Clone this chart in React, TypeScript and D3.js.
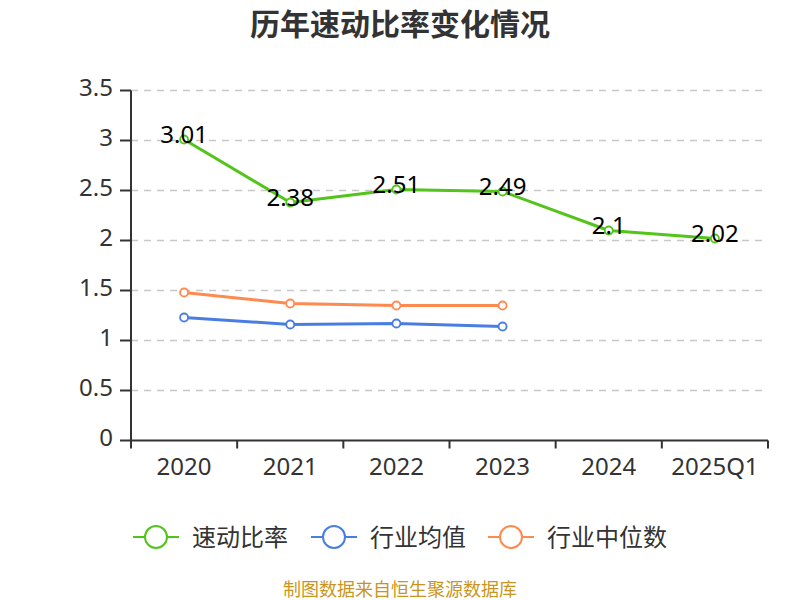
import * as d3 from "d3";

const categories = ["2020", "2021", "2022", "2023", "2024", "2025Q1"];
const quickRatio = [3.01, 2.38, 2.51, 2.49, 2.1, 2.02];
const industryMean = [1.23, 1.16, 1.17, 1.14];
const industryMedian = [1.48, 1.37, 1.35, 1.35];
const yTicks = [0, 0.5, 1, 1.5, 2, 2.5, 3, 3.5];
const seriesNames = ["速动比率", "行业均值", "行业中位数"];

const W = 800;
const H = 600;
const margin = { top: 90.5, right: 32, bottom: 159.5, left: 131 };
const colors = ["#52c41a", "#4a7de2", "#ff8a50"];
const font = "'Noto Sans', 'Noto Sans CJK SC', sans-serif";

export default function App() {
  const innerW = W - margin.left - margin.right;
  const innerH = H - margin.top - margin.bottom;

  const x = d3.scaleBand<string>().domain(categories).range([0, innerW]);
  const y = d3.scaleLinear().domain([0, 3.5]).range([innerH, 0]);
  const cx = (i: number) => x(categories[i])! + x.bandwidth() / 2;

  const line = d3
    .line<number>()
    .x((_, i) => cx(i))
    .y((d) => y(d));

  const series = [quickRatio, industryMean, industryMedian];

  const legendItems = [
    { x: 133, tx: 192 },
    { x: 311, tx: 370 },
    { x: 488, tx: 547 },
  ];

  return (
    <svg
      width={W}
      height={H}
      style={{ position: "absolute", left: 0, top: 0, background: "#fff" }}
      fontFamily={font}
    >
      <text
        x={W / 2}
        y={35}
        textAnchor="middle"
        fontSize={30}
        fontWeight="bold"
        fill="#333"
        fontFamily="'Noto Sans CJK SC', sans-serif"
      >
        历年速动比率变化情况
      </text>

      <g transform={`translate(${margin.left},${margin.top})`}>
        {yTicks.map((t) => (
          <g key={t} transform={`translate(0,${y(t)})`}>
            {t > 0 && (
              <line
                x1={0}
                x2={innerW}
                stroke="#c8c8c8"
                strokeWidth={1.5}
                strokeDasharray="7,6"
              />
            )}
            <line x1={-11} x2={0} stroke="#333" strokeWidth={2} />
            <text
              x={-18}
              y={-3}
              dy="0.35em"
              textAnchor="end"
              fontSize={24}
              fill="#333"
            >
              {t}
            </text>
          </g>
        ))}
        <line x1={0} x2={0} y1={0} y2={innerH} stroke="#333" strokeWidth={2} />
        <line
          x1={0}
          x2={innerW}
          y1={innerH}
          y2={innerH}
          stroke="#333"
          strokeWidth={2}
        />
        {categories.map((c) => (
          <line
            key={"t" + c}
            x1={x(c)!}
            x2={x(c)!}
            y1={innerH}
            y2={innerH + 8}
            stroke="#333"
            strokeWidth={2}
          />
        ))}
        <line
          x1={innerW}
          x2={innerW}
          y1={innerH}
          y2={innerH + 8}
          stroke="#333"
          strokeWidth={2}
        />
        {categories.map((c, i) => (
          <text
            key={c}
            x={cx(i)}
            y={innerH + 34}
            textAnchor="middle"
            fontSize={24}
            fill="#333"
          >
            {c}
          </text>
        ))}

        {series.map((s, si) => (
          <g key={si}>
            <path
              d={line(s)!}
              fill="none"
              stroke={colors[si]}
              strokeWidth={3}
              strokeLinejoin="round"
            />
            {s.map((v, i) => (
              <circle
                key={i}
                cx={cx(i)}
                cy={y(v)}
                r={4}
                fill="#fff"
                stroke={colors[si]}
                strokeWidth={1.8}
              />
            ))}
          </g>
        ))}

        {quickRatio.map((v, i) => (
          <text
            key={"l" + i}
            x={cx(i)}
            y={y(v) - 4.5}
            dy="0.35em"
            textAnchor="middle"
            fontSize={24}
            fill="#000"
          >
            {v}
          </text>
        ))}
      </g>

      {seriesNames.map((name, i) => (
        <g key={name}>
          <line
            x1={legendItems[i].x}
            x2={legendItems[i].x + 46}
            y1={537}
            y2={537}
            stroke={colors[i]}
            strokeWidth={2}
          />
          <circle
            cx={legendItems[i].x + 23}
            cy={537}
            r={11}
            fill="#fff"
            stroke={colors[i]}
            strokeWidth={2}
          />
          <text
            x={legendItems[i].tx}
            y={537}
            dy="0.36em"
            fontSize={24}
            fill="#333"
            fontFamily="'Noto Sans CJK SC', sans-serif"
          >
            {name}
          </text>
        </g>
      ))}

      <text
        x={W / 2}
        y={596}
        textAnchor="middle"
        fontSize={18}
        fill="#c8961e"
        fontFamily="'Noto Sans CJK SC', sans-serif"
      >
        制图数据来自恒生聚源数据库
      </text>
    </svg>
  );
}
